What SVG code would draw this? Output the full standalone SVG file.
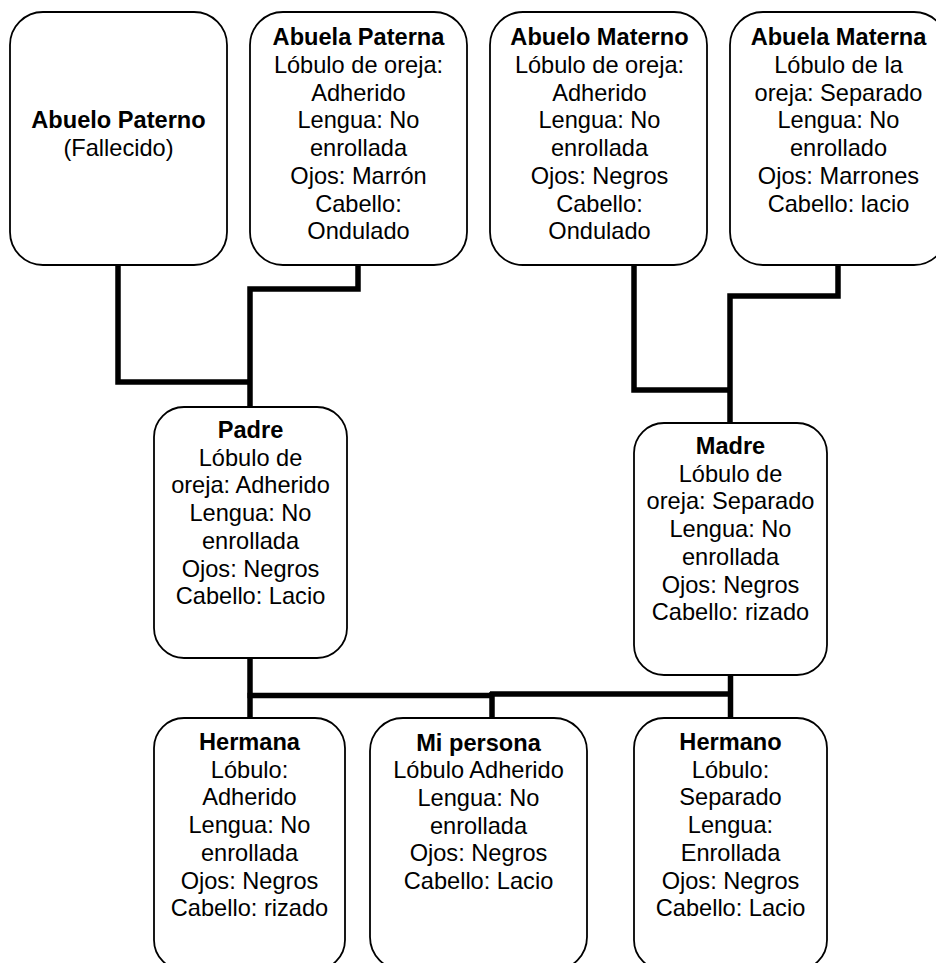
<svg xmlns="http://www.w3.org/2000/svg" width="936" height="963" viewBox="0 0 936 963">
<style>
.box{fill:#fff;stroke:#000;stroke-width:1.8}
.conn{fill:none;stroke:#000;stroke-width:5.5;stroke-linejoin:miter;stroke-linecap:butt}
text{font-family:"Liberation Sans",Arial,sans-serif;font-size:23.6px;fill:#000;text-anchor:middle}
.b{font-weight:bold}
</style>
<rect width="936" height="963" fill="#fff"/>
<g id="connectors">
<path class="conn" d="M118,265 V382 H250"/>
<path class="conn" d="M358,265 V289 H250 V407"/>
<path class="conn" d="M634,265 V390 H730"/>
<path class="conn" d="M838,265 V296 H730 V423"/>
<path class="conn" d="M250,658 V718"/>
<path class="conn" d="M247.5,695.5 H492"/>
<path class="conn" d="M490,694 H733"/>
<path class="conn" d="M492,692 V718"/>
<path class="conn" d="M730.5,670 V718"/>
</g>
<g id="abuelo-paterno">
<rect class="box" x="10" y="12" width="217" height="253" rx="33"/>
<text x="118.5" y="128" class="b">Abuelo Paterno</text>
<text x="118.5" y="155.7">(Fallecido)</text>
</g>
<g id="abuela-paterna">
<rect class="box" x="250" y="12" width="217" height="253" rx="33"/>
<text x="358.5" y="45" class="b">Abuela Paterna</text>
<text x="358.5" y="72.8">Lóbulo de oreja:</text>
<text x="358.5" y="100.5">Adherido</text>
<text x="358.5" y="128.3">Lengua: No</text>
<text x="358.5" y="156">enrollada</text>
<text x="358.5" y="183.8">Ojos: Marrón</text>
<text x="358.5" y="211.6">Cabello:</text>
<text x="358.5" y="239.3">Ondulado</text>
</g>
<g id="abuelo-materno">
<rect class="box" x="490" y="12" width="217" height="253" rx="33"/>
<text x="599.5" y="45" class="b">Abuelo Materno</text>
<text x="599.5" y="72.8">Lóbulo de oreja:</text>
<text x="599.5" y="100.5">Adherido</text>
<text x="599.5" y="128.3">Lengua: No</text>
<text x="599.5" y="156">enrollada</text>
<text x="599.5" y="183.8">Ojos: Negros</text>
<text x="599.5" y="211.6">Cabello:</text>
<text x="599.5" y="239.3">Ondulado</text>
</g>
<g id="abuela-materna">
<rect class="box" x="730" y="12" width="217" height="253" rx="33"/>
<text x="838.5" y="45" class="b">Abuela Materna</text>
<text x="838.5" y="72.8">Lóbulo de la</text>
<text x="838.5" y="100.5">oreja: Separado</text>
<text x="838.5" y="128.3">Lengua: No</text>
<text x="838.5" y="156">enrollado</text>
<text x="838.5" y="183.8">Ojos: Marrones</text>
<text x="838.5" y="211.6">Cabello: lacio</text>
</g>
<g id="padre">
<rect class="box" x="154" y="407" width="193" height="251" rx="30"/>
<text x="250.5" y="438" class="b">Padre</text>
<text x="250.5" y="465.7">Lóbulo de</text>
<text x="250.5" y="493.4">oreja: Adherido</text>
<text x="250.5" y="521.1">Lengua: No</text>
<text x="250.5" y="548.8">enrollada</text>
<text x="250.5" y="576.5">Ojos: Negros</text>
<text x="250.5" y="604.2">Cabello: Lacio</text>
</g>
<g id="madre">
<rect class="box" x="634" y="423" width="193" height="252" rx="30"/>
<text x="730.5" y="454" class="b">Madre</text>
<text x="730.5" y="481.7">Lóbulo de</text>
<text x="730.5" y="509.4">oreja: Separado</text>
<text x="730.5" y="537.1">Lengua: No</text>
<text x="730.5" y="564.8">enrollada</text>
<text x="730.5" y="592.5">Ojos: Negros</text>
<text x="730.5" y="620.2">Cabello: rizado</text>
</g>
<g id="hermana">
<rect class="box" x="154" y="718" width="191" height="252" rx="30"/>
<text x="249.5" y="750" class="b">Hermana</text>
<text x="249.5" y="777.7">Lóbulo:</text>
<text x="249.5" y="805.4">Adherido</text>
<text x="249.5" y="833.1">Lengua: No</text>
<text x="249.5" y="860.8">enrollada</text>
<text x="249.5" y="888.5">Ojos: Negros</text>
<text x="249.5" y="916.2">Cabello: rizado</text>
</g>
<g id="mi-persona">
<rect class="box" x="370" y="718" width="217" height="252" rx="33"/>
<text x="478.5" y="750.5" class="b">Mi persona</text>
<text x="478.5" y="778.2">Lóbulo Adherido</text>
<text x="478.5" y="805.9">Lengua: No</text>
<text x="478.5" y="833.6">enrollada</text>
<text x="478.5" y="861.3">Ojos: Negros</text>
<text x="478.5" y="889">Cabello: Lacio</text>
</g>
<g id="hermano">
<rect class="box" x="634" y="718" width="193" height="252" rx="30"/>
<text x="730.5" y="750" class="b">Hermano</text>
<text x="730.5" y="777.7">Lóbulo:</text>
<text x="730.5" y="805.4">Separado</text>
<text x="730.5" y="833.1">Lengua:</text>
<text x="730.5" y="860.8">Enrollada</text>
<text x="730.5" y="888.5">Ojos: Negros</text>
<text x="730.5" y="916.2">Cabello: Lacio</text>
</g>
</svg>
